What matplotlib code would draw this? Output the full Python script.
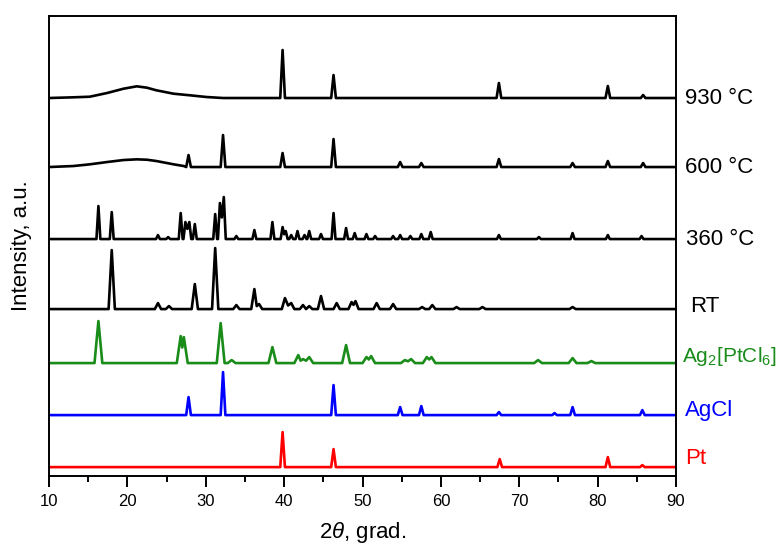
import numpy as np
import matplotlib
matplotlib.use('Agg')
import matplotlib.pyplot as plt

plt.rcParams['font.family'] = ['Liberation Sans', 'DejaVu Sans']
plt.rcParams['mathtext.fontset'] = 'custom'
plt.rcParams['mathtext.it'] = 'Liberation Sans:italic'
plt.rcParams['mathtext.rm'] = 'Liberation Sans'

# peak positions (2theta) and heights
pt_pos = [39.8, 46.3, 67.5, 81.3, 85.7]
pt_hgt = [35, 18, 8, 10, 2]

agcl_pos = [27.8, 32.2, 46.3, 54.8, 57.5, 67.4, 74.5, 76.8, 85.7]
agcl_hgt = [18, 43, 30, 8, 9, 3, 2, 8, 5]

agpt_pos = [16.3, 26.8, 27.2, 31.9, 33.3, 38.5, 41.8, 42.4, 43.2, 47.9,
            50.5, 51.1, 55.4, 56.2, 58.2, 58.8, 72.4, 76.8, 79.2]
agpt_hgt = [42, 27, 26, 40, 3, 16, 8, 4, 6, 18,
            6, 7, 3, 4, 6, 6, 3, 5, 2]

rt_pos = [18.0, 23.9, 25.3, 28.6, 31.2, 33.9, 36.2, 36.8, 40.1, 40.9,
          42.4, 43.2, 44.7, 46.7, 48.6, 49.1, 51.8, 53.9, 57.6, 58.9,
          62.0, 65.3, 76.8]
rt_hgt = [59, 6, 3, 25, 61, 4, 20, 5, 11, 6,
          4, 3, 13, 6, 7, 8, 6, 5, 2, 4,
          2, 2, 2]

t360_pos = [16.3, 18.0, 23.9, 25.2, 26.8, 27.4, 27.9, 28.6, 31.2, 31.8,
            32.3, 33.9, 36.2, 38.5, 39.8, 40.2, 40.9, 41.7, 42.6, 43.2,
            44.7, 46.3, 47.9, 49.0, 50.5, 51.6, 53.9, 54.8, 56.1, 57.5,
            58.7, 67.4, 72.5, 76.8, 81.3, 85.6]
t360_hgt = [33, 27, 4, 2, 26, 17, 17, 15, 25, 36,
            42, 3, 9, 17, 12, 8, 4, 8, 4, 8,
            5, 26, 11, 6, 5, 3, 3, 4, 3, 5,
            7, 4, 2, 6, 4, 3]

t600_pos = [27.8, 32.2, 39.8, 46.3, 54.8, 57.5, 67.4, 76.8, 81.3, 85.8]
t600_hgt = [12, 32, 14, 28, 5, 4, 8, 4, 6, 4]
t600_bg_x = [13.1, 15.2, 17.4, 19.5, 21.2, 22.5, 23.7, 25.9, 27.2]
t600_bg_y = [1.0, 2.7, 5.0, 7.0, 7.7, 7.3, 6.0, 2.7, 1.0]

t930_pos = [39.8, 46.3, 67.4, 81.3, 85.8]
t930_hgt = [48, 23, 15, 12, 3]
t930_bg_x = [13.1, 15.2, 17.4, 19.5, 21.2, 22.5, 23.7, 25.9, 28.0, 30.1, 32.2]
t930_bg_y = [0.7, 1.3, 5.0, 9.3, 11.7, 10.3, 7.7, 4.3, 2.7, 1.0, 0.0]

labels = ['930 °C', '600 °C', '360 °C', 'RT', r'Ag$_2$[PtCl$_6$]', 'AgCl', 'Pt']
colors = ['black', 'black', 'black', 'black', '#1a8c1a', '#0000ff', '#ff0000']

patterns = [
    (t930_pos, t930_hgt, t930_bg_x, t930_bg_y),
    (t600_pos, t600_hgt, t600_bg_x, t600_bg_y),
    (t360_pos, t360_hgt, [], []),
    (rt_pos, rt_hgt, [], []),
    (agpt_pos, agpt_hgt, [], []),
    (agcl_pos, agcl_hgt, [], []),
    (pt_pos, pt_hgt, [], []),
]

# layout: vertical offsets, peak half widths, label placement
offsets = [378, 309, 237, 167, 113, 61, 9]
widths = [0.3, 0.3, 0.25, 0.4, 0.5, 0.3, 0.3]
label_x = [91.1, 91.2, 91.3, 91.8, 90.8, 91.2, 91.2]
label_dy = [0, 0, 0, 3, 7, 5, 9]
label_fs = [16, 16, 16, 16, 15, 16, 16]


def build_line(pos, hgt, bg_x, bg_y, w):
    pts = [(10.0, 0.0), (90.0, 0.0)] + list(zip(bg_x, bg_y))
    pk = sorted(zip(pos, hgt))
    for i, (p, h) in enumerate(pk):
        pts.append((p, h))
        if i == 0 or p - pk[i - 1][0] > 2 * w:
            pts.append((p - w, 0.0))
        else:
            q, g = pk[i - 1]
            pts.append(((p + q) / 2, 0.6 * min(h, g)))
        if i == len(pk) - 1 or pk[i + 1][0] - p > 2 * w:
            pts.append((p + w, 0.0))
    pts.sort(key=lambda t: t[0])
    return np.array([t[0] for t in pts]), np.array([t[1] for t in pts])


fig = plt.figure(figsize=(7.82, 5.46), dpi=100)
ax = fig.add_axes([0.0627, 0.128, 0.8018, 0.8427])

for (pos, hgt, bx, by), off, w, col, lab, lx, dy, fs in zip(
        patterns, offsets, widths, colors, labels, label_x, label_dy, label_fs):
    xs, ys = build_line(pos, hgt, bx, by, w)
    ax.plot(xs, ys + off, color=col, lw=1.9, solid_joinstyle='round')
    ax.text(lx, off + dy, lab, color=col, fontsize=fs,
            ha='left', va='center', clip_on=False)

ax.set_xlim(10, 90)
ax.set_ylim(0, 460)
ax.set_xticks(np.arange(10, 91, 10))
ax.set_xticks(np.arange(15, 90, 10), minor=True)
ax.tick_params(axis='x', which='major', direction='out', length=8, width=1.4,
               labelsize=12, pad=5)
ax.tick_params(axis='x', which='minor', direction='out', length=4, width=1.4)
ax.set_yticks([])
for s in ax.spines.values():
    s.set_linewidth(1.4)

ax.set_xlabel(r'2$\theta$, grad.', fontsize=16, labelpad=8)
ax.set_ylabel('Intensity, a.u.', fontsize=16, labelpad=12)

fig.savefig('out.png', dpi=100)
